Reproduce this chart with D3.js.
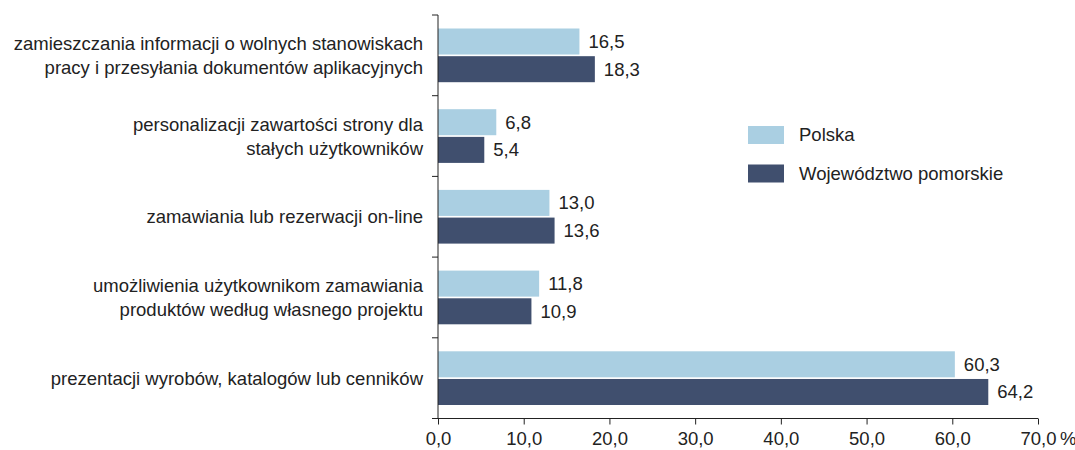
<!DOCTYPE html>
<html><head><meta charset="utf-8">
<script src="https://cdn.jsdelivr.net/npm/d3@7"></script>
<style>
html,body{margin:0;padding:0;background:#fff;}
text{font-family:"Liberation Sans",Arial,sans-serif;}
</style></head>
<body><svg id="c" width="1075" height="450"></svg>
<script>
const categories = [
  ["zamieszczania informacji o wolnych stanowiskach", "pracy i przesyłania dokumentów aplikacyjnych"],
  ["personalizacji zawartości strony dla", "stałych użytkowników"],
  ["zamawiania lub rezerwacji on-line"],
  ["umożliwienia użytkownikom zamawiania", "produktów według własnego projektu"],
  ["prezentacji wyrobów, katalogów lub cenników"]
];
const seriesNames = ["Polska", "Województwo pomorskie"];
const polska = [16.5, 6.8, 13.0, 11.8, 60.3];
const pomorskie = [18.3, 5.4, 13.6, 10.9, 64.2];
const xTicks = [0, 10, 20, 30, 40, 50, 60, 70];
const colors = ["#aacfe2", "#404f6e"];

const FS = 18.5;
const svg = d3.select("#c");
const x0 = 438, x1 = 1038, yTop = 15, yBot = 418.5;
const x = d3.scaleLinear().domain([0, 70]).range([x0, x1]);
const idx = d3.range(categories.length);
const y = d3.scaleBand().domain(idx).range([yTop, yBot]).paddingInner(0).paddingOuter(0);
const inner = d3.scaleBand().domain([0, 1]).range([13.5, y.bandwidth() - 13.5]).paddingInner(0.06);
const fmt = v => v.toFixed(1).replace(".", ",");
const series = [polska, pomorskie];

// bars
series.forEach((vals, s) => {
  svg.append("g").selectAll("rect").data(vals).join("rect")
    .attr("x", x(0))
    .attr("y", (d, i) => y(i) + inner(s))
    .attr("width", d => x(d) - x(0))
    .attr("height", inner.bandwidth())
    .attr("fill", colors[s]);
  svg.append("g").selectAll("text").data(vals).join("text")
    .attr("x", d => x(d) + 9)
    .attr("y", (d, i) => y(i) + inner(s) + inner.bandwidth() / 2)
    .attr("dy", "0.35em")
    .attr("font-size", FS)
    .attr("fill", "#222")
    .text(d => fmt(d));
});

// x axis
const xa = svg.append("g").attr("transform", `translate(0,${yBot})`)
  .call(d3.axisBottom(x).tickValues(xTicks).tickSize(6).tickPadding(7).tickFormat(d => fmt(d)));
xa.select(".domain").attr("stroke", "#222").attr("d", `M${x0 - 6},0H${x1}`);
xa.selectAll(".tick line").attr("stroke", "#222");
xa.selectAll(".tick text").attr("font-size", FS).attr("fill", "#222").attr("font-family", "Liberation Sans, Arial, sans-serif");
svg.append("text").attr("x", x(70) + 22).attr("y", yBot + 13).attr("dy", "0.71em")
  .attr("font-size", FS).attr("fill", "#222").text("%");

// y axis line with boundary ticks
svg.append("line").attr("x1", x0).attr("x2", x0).attr("y1", yTop).attr("y2", yBot).attr("stroke", "#222");
svg.append("g").selectAll("line").data(idx).join("line")
  .attr("x1", x0 - 6).attr("x2", x0).attr("y1", i => y(i)).attr("y2", i => y(i)).attr("stroke", "#222");

// category labels
idx.forEach(i => {
  const lines = categories[i];
  const cy = y(i) + y.bandwidth() / 2;
  const lh = 24;
  lines.forEach((t, j) => {
    svg.append("text")
      .attr("x", x0 - 15)
      .attr("y", cy + (j - (lines.length - 1) / 2) * lh)
      .attr("dy", "0.35em")
      .attr("text-anchor", "end")
      .attr("font-size", FS)
      .attr("fill", "#222")
      .text(t);
  });
});

// legend
const lg = svg.append("g");
seriesNames.forEach((n, s) => {
  const ly = 135 + s * 38.5;
  lg.append("rect").attr("x", 748).attr("y", ly - 9).attr("width", 36).attr("height", 18).attr("fill", colors[s]);
  lg.append("text").attr("x", 799).attr("y", ly).attr("dy", "0.35em").attr("font-size", FS).attr("fill", "#222").text(n);
});
</script></body></html>
